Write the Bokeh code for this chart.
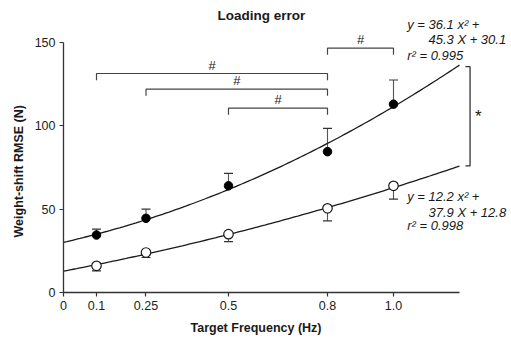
import numpy as np
from bokeh.plotting import figure
from bokeh.models import Range1d, FixedTicker, ColumnDataSource, Whisker, TeeHead, Label, Title
from bokeh.embed import file_html
from bokeh.resources import INLINE
from bokeh.core.properties import value

# ---- data ----
freq = [0.1, 0.25, 0.5, 0.8, 1.0]
loading_mean = [34.5, 44.5, 64.0, 84.5, 113.0]
loading_upper = [38.0, 50.0, 71.5, 98.5, 127.5]
unloading_mean = [16.0, 24.0, 35.0, 50.5, 64.0]
unloading_lower = [13.0, 21.0, 30.5, 43.0, 56.0]
fit_filled = [36.1, 45.3, 30.1]   # a, b, c of y = a x^2 + b x + c
fit_open = [12.2, 37.9, 12.8]
fit_x_max = 1.2
x_ticks = [0, 0.1, 0.25, 0.5, 0.8, 1.0]
x_tick_labels = ["0", "0.1", "0.25", "0.5", "0.8", "1.0"]
y_ticks = [0, 50, 100, 150]
bracket_x0 = [0.1, 0.25, 0.5, 0.8]
bracket_x1 = [0.8, 0.8, 0.8, 1.0]
bracket_y = [131.4, 122.0, 110.6, 146.6]
bracket_labels = ["#", "#", "#", "#"]
sig_y = [76.0, 135.5]
eq_filled = ["y = 36.1 x\u00b2 +", "45.3 X + 30.1", "r\u00b2 = 0.995"]
eq_open = ["y = 12.2 x\u00b2 +", "37.9 X + 12.8", "r\u00b2 = 0.998"]

FONT = value("Liberation Sans")
INK = "#1a1a1a"

p = figure(width=511, height=341, x_range=Range1d(0, 1.3576), y_range=Range1d(0, 175.2),
           output_backend="svg", toolbar_location=None, title=None,
           min_border_left=63, min_border_right=0, min_border_top=0, min_border_bottom=49)
p.outline_line_color = None
p.grid.visible = False
p.background_fill_color = "white"
p.border_fill_color = "white"

p.xaxis.ticker = FixedTicker(ticks=x_ticks)
p.xaxis.major_label_overrides = {t: l for t, l in zip(x_ticks, x_tick_labels)}
p.xaxis.bounds = (0, fit_x_max)
p.yaxis.ticker = FixedTicker(ticks=y_ticks)
p.yaxis.bounds = (0, 150)
for ax in (p.xaxis[0], p.yaxis[0]):
    ax.major_tick_out = 4
    ax.major_tick_in = 0
    ax.minor_tick_out = 0
    ax.minor_tick_in = 0
    ax.axis_line_width = 1.3
    ax.axis_line_color = "#333333"
    ax.major_tick_line_color = "#333333"
    ax.major_tick_line_width = 1.2
    ax.major_label_text_font = "Liberation Sans"
    ax.major_label_text_font_size = "12.5px"
    ax.major_label_text_color = "#222222"
    ax.major_label_standoff = 4

# axis titles
p.add_layout(Title(text="Weight-shift RMSE (N)", align="left", offset=55, standoff=12,
                   text_font="Liberation Sans", text_font_style="bold",
                   text_font_size="12.5px", text_color=INK), "left")
p.add_layout(Title(text="Target Frequency (Hz)", align="left", offset=127, standoff=12,
                   text_font="Liberation Sans", text_font_style="bold",
                   text_font_size="12.5px", text_color=INK), "below")

# fitted curves
xs = np.linspace(0, fit_x_max, 121)
for c in (fit_filled, fit_open):
    p.line(xs, c[0] * xs ** 2 + c[1] * xs + c[2], line_color=INK, line_width=1.3)

# error bars
src_f = ColumnDataSource(dict(x=freq, lo=loading_mean, hi=loading_upper))
src_o = ColumnDataSource(dict(x=freq, lo=unloading_lower, hi=unloading_mean))
w1 = Whisker(base="x", lower="lo", upper="hi", source=src_f, dimension="height",
             upper_head=TeeHead(size=9, line_color="#333333", line_width=1.2), lower_head=None,
             line_color="#555555", line_width=1.1, level="underlay")
w2 = Whisker(base="x", lower="lo", upper="hi", source=src_o, dimension="height",
             lower_head=TeeHead(size=9, line_color="#333333", line_width=1.2), upper_head=None,
             line_color="#555555", line_width=1.1, level="underlay")
p.add_layout(w1)
p.add_layout(w2)

# markers
p.scatter(freq, loading_mean, marker="circle", size=8.5, fill_color="black", line_color="black")
p.scatter(freq, unloading_mean, marker="circle", size=9.5, fill_color="white", line_color=INK, line_width=1.2)

# comparison brackets
bxs, bys = [], []
for x0, x1, y in zip(bracket_x0, bracket_x1, bracket_y):
    bxs.append([x0, x0, x1, x1])
    bys.append([y - 4, y, y, y - 4])
p.multi_line(bxs, bys, line_color="#444444", line_width=1.2)
p.text(x=[(a + b) / 2 for a, b in zip(bracket_x0, bracket_x1)], y=[y + 5 for y in bracket_y],
       text=bracket_labels, text_font=FONT, text_font_size="13px", text_color=INK,
       text_align="center", text_baseline="middle")

# significance bracket on the right
sx = 1.232
p.line([sx - 0.014, sx, sx, sx - 0.014], [sig_y[1], sig_y[1], sig_y[0], sig_y[0]],
       line_color="#333333", line_width=1.3)
p.text(x=[1.257], y=[(sig_y[0] + sig_y[1]) / 2], text=["*"], text_font=FONT,
       text_font_size="17px", text_color=INK, text_align="center", text_baseline="middle")

# regression equations
p.text(x=[1.0415, 1.106, 1.0415], y=[160.8, 151.6, 142.2], text=eq_filled, text_font=FONT,
       text_font_style="italic", text_font_size="13px", text_color=INK,
       text_align="left", text_baseline="middle")
p.text(x=[1.0415, 1.106, 1.0415], y=[57.6, 48.2, 40.2], text=eq_open, text_font=FONT,
       text_font_style="italic", text_font_size="13px", text_color=INK,
       text_align="left", text_baseline="middle")

# chart title
p.add_layout(Label(x=0.6, y=166, text="Loading error", text_font="Liberation Sans",
                   text_font_style="bold", text_font_size="13.5px", text_color=INK,
                   text_align="center", text_baseline="middle"))

open("out.html", "w").write(file_html(p, INLINE))
